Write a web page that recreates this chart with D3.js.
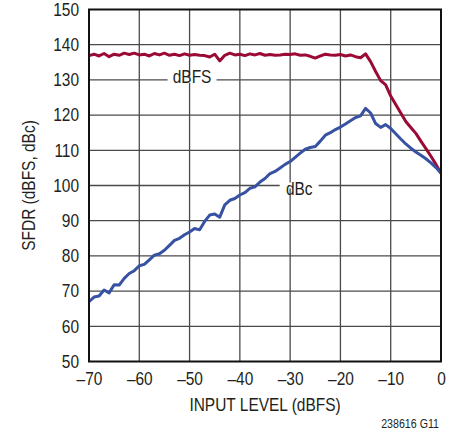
<!DOCTYPE html>
<html>
<head>
<meta charset="utf-8">
<script src="https://cdn.jsdelivr.net/npm/d3@7"></script>
<style>
  html, body { margin: 0; padding: 0; background: #fff; }
  svg { display: block; }
  text { font-family: "Liberation Sans", Arial, sans-serif; fill: #231f20; }
</style>
</head>
<body>
<svg id="chart" width="456" height="433"></svg>
<script>
// ---- data ----
const inputLevel = d3.range(-70, 1, 1); // dBFS, -70 .. 0
const sfdrDbfs = [
  136.9, 137.3, 136.8, 137.5, 136.6, 137.3, 137.0, 137.6, 137.2, 137.6,
  137.1, 137.3, 136.8, 137.5, 137.1, 137.6, 137.0, 137.3, 136.9, 137.4,
  137.0, 137.2, 137.0, 136.9, 136.5, 137.3, 135.4, 137.0, 137.6, 137.1,
  137.3, 136.9, 137.4, 137.1, 137.5, 137.0, 137.2, 137.0, 137.1, 137.3,
  137.2, 137.4, 137.0, 137.1, 136.7, 136.2, 136.8, 137.3, 137.1, 137.0,
  137.2, 136.8, 137.1, 136.6, 136.3, 137.4, 135.2, 132.4, 129.8, 128.6,
  125.4, 123.0, 120.6, 118.2, 116.5, 114.8, 112.6, 110.5, 108.3, 106.0,
  103.5
];
const sfdrDbc = [
  67.0, 68.3, 68.6, 70.3, 69.5, 71.8, 71.7, 73.6, 75.0, 75.8,
  77.2, 77.6, 78.9, 80.2, 80.6, 81.6, 83.0, 84.4, 85.0, 86.0,
  86.8, 87.8, 87.4, 89.8, 91.6, 91.9, 91.0, 94.5, 95.8, 96.3,
  97.3, 98.0, 99.2, 99.6, 101.0, 102.0, 103.4, 104.0, 105.0, 106.0,
  106.8, 108.0, 109.2, 110.3, 110.8, 111.1, 112.6, 114.3, 115.0, 115.9,
  116.6, 117.5, 118.4, 119.3, 119.8, 121.9, 120.6, 117.6, 116.5, 117.3,
  116.2, 114.7, 113.2, 111.8, 110.6, 109.5, 108.6, 107.6, 106.4, 105.1,
  103.5
];
const xTicks = [-70, -60, -50, -40, -30, -20, -10, 0];
const yTicks = [50, 60, 70, 80, 90, 100, 110, 120, 130, 140, 150];
const seriesNames = ["dBFS", "dBc"];
const seriesColors = ["#9a0a35", "#3852a3"];
const labelPos = [[-49.5, 130], [-28.2, 100]]; // label anchor in data units
const xTitle = "INPUT LEVEL (dBFS)";
const yTitle = "SFDR (dBFS, dBc)";
const footnote = "238616 G11";

// ---- layout ----
const SX = 0.86; // condensed look
const svg = d3.select("#chart");
const x = d3.scaleLinear().domain([-70, 0]).range([89, 441]);
const y = d3.scaleLinear().domain([50, 150]).range([361.5, 9.5]);

function condensedText(g, px, py, str, size, anchor, sx) {
  return g.append("text")
    .attr("transform", `translate(${px},${py}) scale(${sx || SX},1)`)
    .attr("text-anchor", anchor).attr("font-size", size)
    .text(str);
}

// grid
const grid = svg.append("g");
grid.selectAll("line.v").data(xTicks.slice(1, -1)).join("line")
  .attr("x1", d => x(d)).attr("x2", d => x(d))
  .attr("y1", y(50)).attr("y2", y(150))
  .attr("stroke", "#4a4a4a").attr("stroke-width", 1.3);
grid.selectAll("line.h").data(yTicks.slice(1, -1)).join("line")
  .attr("x1", x(-70)).attr("x2", x(0))
  .attr("y1", d => y(d)).attr("y2", d => y(d))
  .attr("stroke", "#4a4a4a").attr("stroke-width", 1.3);

// label backgrounds (gaps in gridlines)
const series = [sfdrDbfs, sfdrDbc];
const labG = svg.append("g");
seriesNames.forEach((name, i) => {
  const [lx, ly] = labelPos[i];
  labG.append("rect")
    .attr("x", x(lx) - (i === 0 ? 24.5 : 19.5))
    .attr("width", i === 0 ? 49 : 39)
    .attr("y", y(ly) - 3).attr("height", 6)
    .attr("fill", "#fff");
});

// lines
const line = d3.line().x(d => x(d[0])).y(d => y(d[1]));
series.forEach((vals, i) => {
  svg.append("path")
    .datum(inputLevel.map((v, k) => [v, vals[k]]))
    .attr("d", line)
    .attr("fill", "none")
    .attr("stroke", seriesColors[i])
    .attr("stroke-width", 3)
    .attr("stroke-linejoin", "round");
});

// series labels
seriesNames.forEach((name, i) => {
  const [lx, ly] = labelPos[i];
  condensedText(labG, x(lx), y(ly) + (i === 0 ? 2.8 : 9), name, 18, "middle");
});

// frame
svg.append("rect")
  .attr("x", x(-70)).attr("y", y(150))
  .attr("width", x(0) - x(-70)).attr("height", y(50) - y(150))
  .attr("fill", "none").attr("stroke", "#111").attr("stroke-width", 2);

// axes (labels only, via d3 axes)
const xAxis = svg.append("g")
  .attr("transform", `translate(0,${y(50)})`)
  .call(d3.axisBottom(x).tickValues(xTicks).tickSize(0).tickPadding(11)
    .tickFormat(d => d === 0 ? "0" : "\u2013" + Math.abs(d)));
xAxis.select(".domain").remove();
xAxis.selectAll("text").attr("font-size", 18).attr("fill", "#231f20")
  .attr("font-family", null).attr("transform", `scale(${SX},1)`);

const yAxis = svg.append("g")
  .attr("transform", `translate(${x(-70)},0)`)
  .call(d3.axisLeft(y).tickValues(yTicks).tickSize(0).tickPadding(11.6));
yAxis.select(".domain").remove();
yAxis.selectAll("text").attr("font-size", 18).attr("fill", "#231f20")
  .attr("font-family", null).attr("transform", `scale(${SX},1)`);

// titles
condensedText(svg, (x(-70) + x(0)) / 2, 411, xTitle, 18, "middle");
svg.append("text")
  .attr("transform", `translate(35,${(y(50) + y(150)) / 2}) rotate(-90) scale(${SX},1)`)
  .attr("text-anchor", "middle").attr("font-size", 18)
  .text(yTitle);
condensedText(svg, 439, 427.5, footnote, 13, "end", 0.82);
</script>
</body>
</html>
